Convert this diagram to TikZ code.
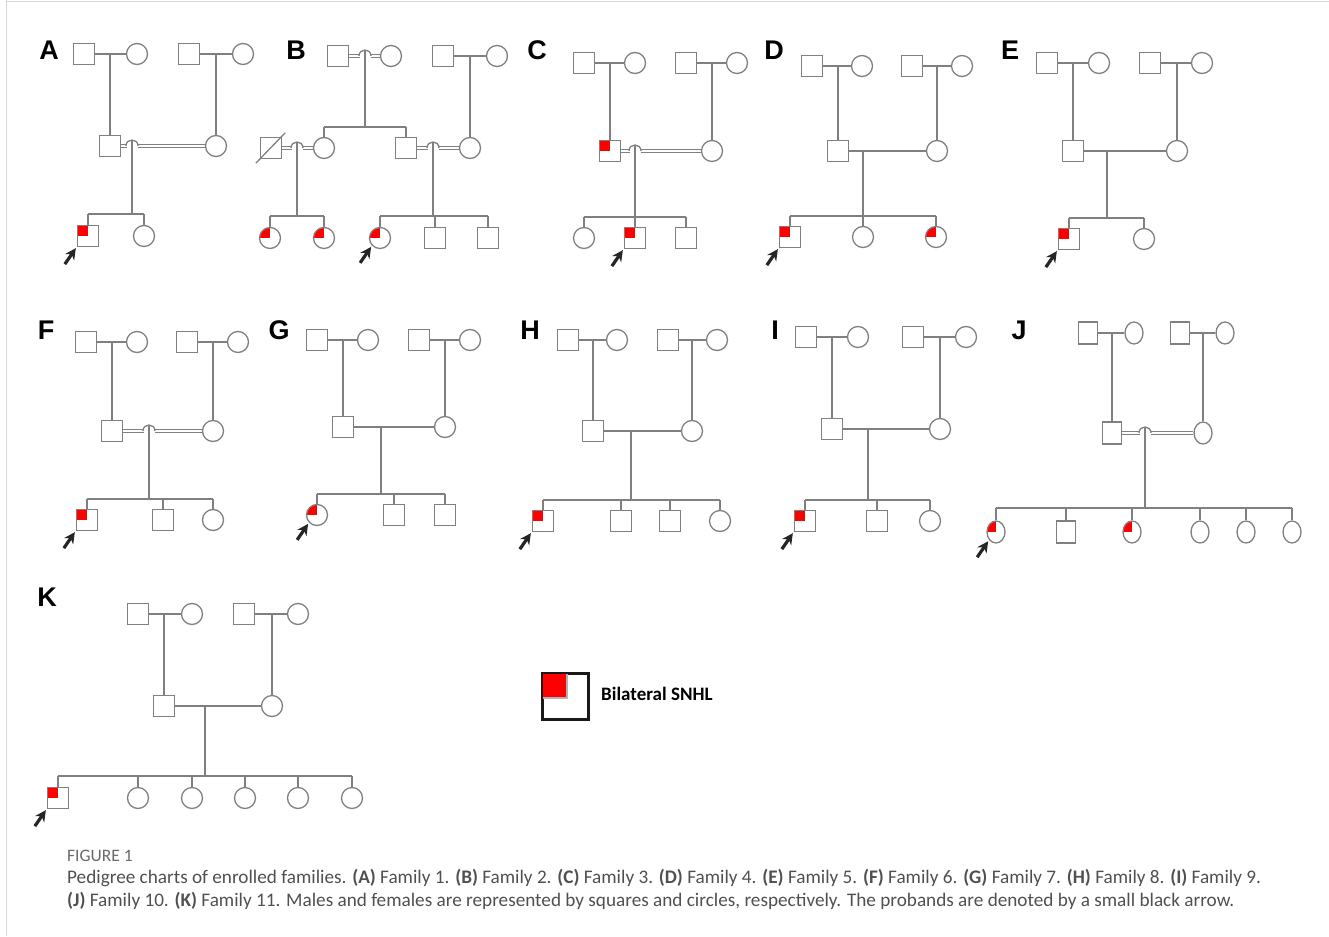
\documentclass[tikz,border=0pt]{standalone}
\usepackage{fontspec}
\newfontfamily\arialf{Liberation Sans}
\newfontfamily\calf{Carlito}
\usetikzlibrary{shapes.geometric,arrows.meta,calc}
\definecolor{pg}{RGB}{128,128,128}
\definecolor{capgray}{RGB}{80,80,80}
\definecolor{figgray}{RGB}{105,105,105}
\definecolor{framegray}{RGB}{215,215,215}
\tikzset{
 ln/.style={draw=pg, line width=1.3pt},
 dl/.style={draw=pg, line width=1.1pt},
 M/.style={rectangle, draw=pg, line width=1.3pt, minimum size=21pt, inner sep=0pt},
 Mj/.style={rectangle, draw=pg, line width=1.3pt, minimum width=19pt, minimum height=22pt, inner sep=0pt},
 F/.style={circle, draw=pg, line width=1.3pt, minimum size=21pt, inner sep=0pt},
 Fe/.style={ellipse, draw=pg, line width=1.3pt, minimum width=18pt, minimum height=22pt, inner sep=0pt},
 aff/.style={path picture={\fill[red] (path picture bounding box.north west) rectangle (path picture bounding box.center);}},
 proband/.style={draw=black!85, line width=3.2pt, -{Stealth[length=11pt,width=11pt]}},
 lbl/.style={font=\arialf\bfseries\fontsize{27}{29}\selectfont, inner sep=0pt},
}
\newcommand\marry[2]{\draw[ln] (#1.east) -- (#2.west);}
\newcommand\kid[2]{\draw[ln] (#1.north) -- (#1 |- #2);}
\newcommand\probarrow[1]{\draw[proband] ($(#1.south west)+(-12,17)$) -- ($(#1.south west)+(-1,1)$);}
\newcommand\consang[3]{%
 \draw[dl] ($(#1.east)+(0,-1.3)$) -- ($(#2)+(-5.5,-1.3)$);
 \draw[dl] ($(#1.east)+(0,1.3)$) -- ($(#2)+(-5.5,1.3)$);
 \draw[ln] ($(#2)+(-6,0)$) .. controls ($(#2)+(-6,-8)$) and ($(#2)+(6,-8)$) .. ($(#2)+(6,0)$);
 \draw[dl] ($(#2)+(5.5,-1.3)$) -- ($(#3.west)+(0,-1.3)$);
 \draw[dl] ($(#2)+(5.5,1.3)$) -- ($(#3.west)+(0,1.3)$);}
\begin{document}
\begin{tikzpicture}[x=1pt,y=-1pt]
\useasboundingbox (0,0) rectangle (1329,936);
\draw[framegray, line width=1pt] (6,0) -- (6,936);
\draw[framegray, line width=1pt] (6,1.5) -- (1329,1.5);

% ---------- A ----------
\node[lbl] (lA) at (49,50) {A};
\node[M] (A1) at (84,54) {};
\node[F] (A2) at (137,54) {};
\node[M] (A3) at (189,54) {};
\node[F] (A4) at (243,54) {};
\node[M] (A5) at (110,146) {};
\node[F] (A6) at (216,146) {};
\node[M,aff] (A7) at (88,236) {};
\node[F] (A8) at (144,236) {};
\coordinate (Ah) at (132,146);
\coordinate (As) at (132,214);
\marry{A1}{A2} \marry{A3}{A4}
\kid{A5}{A1} \kid{A6}{A3}
\consang{A5}{Ah}{A6}
\draw[ln] ($(Ah)+(0,-6)$) -- (As);
\draw[ln] (A7 |- As) -- (A8 |- As);
\kid{A7}{As} \kid{A8}{As}
\probarrow{A7}

% ---------- B ----------
\node[lbl] (lB) at (296,50) {B};
\node[M] (B1) at (338,56) {};
\node[F] (B2) at (391,56) {};
\node[M] (B3) at (443,56) {};
\node[F] (B4) at (497,56) {};
\node[M] (B5) at (271,148) {};
\node[F] (B6) at (324,148) {};
\node[M] (B7) at (406,148) {};
\node[F] (B8) at (470,148) {};
\node[F,aff] (B9) at (270,238) {};
\node[F,aff] (B10) at (324,238) {};
\node[F,aff] (B11) at (380,238) {};
\node[M] (B12) at (435,238) {};
\node[M] (B13) at (488,238) {};
\coordinate (Bh1) at (365,56);
\coordinate (Bs1) at (365,127);
\coordinate (Bh2) at (297,148);
\coordinate (Bs2) at (297,216);
\coordinate (Bh3) at (433,148);
\coordinate (Bs3) at (433,216);
\consang{B1}{Bh1}{B2}
\draw[ln] ($(Bh1)+(0,-6)$) -- (Bs1);
\draw[ln] (B6 |- Bs1) -- (B7 |- Bs1);
\kid{B6}{Bs1} \kid{B7}{Bs1}
\marry{B3}{B4} \kid{B8}{B3}
\consang{B5}{Bh2}{B6}
\draw[ln] ($(Bh2)+(0,-6)$) -- (Bs2);
\draw[ln] (B9 |- Bs2) -- (B10 |- Bs2);
\kid{B9}{Bs2} \kid{B10}{Bs2}
\consang{B7}{Bh3}{B8}
\draw[ln] ($(Bh3)+(0,-6)$) -- (Bs3);
\draw[ln] (B11 |- Bs3) -- (B13 |- Bs3);
\kid{B11}{Bs3} \kid{B12}{Bs3} \kid{B13}{Bs3}
\draw[ln] ($(B5.south west)+(-4,4)$) -- ($(B5.north east)+(3,-4)$);
\probarrow{B11}

% ---------- C ----------
\node[lbl] (lC) at (537,50) {C};
\node[M] (C1) at (584,63) {};
\node[F] (C2) at (635,63) {};
\node[M] (C3) at (686,63) {};
\node[F] (C4) at (737,63) {};
\node[M,aff] (C5) at (610,151) {};
\node[F] (C6) at (712,151) {};
\node[F] (C7) at (584,238) {};
\node[M,aff] (C8) at (635,238) {};
\node[M] (C9) at (686,238) {};
\coordinate (Ch) at (635,151);
\coordinate (Cs) at (635,217);
\marry{C1}{C2} \marry{C3}{C4}
\kid{C5}{C1} \kid{C6}{C3}
\consang{C5}{Ch}{C6}
\draw[ln] ($(Ch)+(0,-6)$) -- (Cs);
\draw[ln] (C7 |- Cs) -- (C9 |- Cs);
\kid{C7}{Cs} \kid{C8}{Cs} \kid{C9}{Cs}
\probarrow{C8}

% ---------- D ----------
\node[lbl] (lD) at (774,50) {D};
\node[M] (D1) at (812,66) {};
\node[F] (D2) at (862,66) {};
\node[M] (D3) at (912,66) {};
\node[F] (D4) at (962,66) {};
\node[M] (D5) at (838,151) {};
\node[F] (D6) at (937,151) {};
\node[M,aff] (D7) at (790,237) {};
\node[F] (D8) at (863,237) {};
\node[F,aff] (D9) at (936,237) {};
\coordinate (Dd) at (863,216);
\marry{D1}{D2} \marry{D3}{D4}
\kid{D5}{D1} \kid{D6}{D3}
\marry{D5}{D6}
\draw[ln] (Dd |- D5) -- (Dd);
\draw[ln] (D7 |- Dd) -- (D9 |- Dd);
\kid{D7}{Dd} \kid{D8}{Dd} \kid{D9}{Dd}
\probarrow{D7}

% ---------- E ----------
\node[lbl] (lE) at (1010,50) {E};
\node[M] (E1) at (1047,63) {};
\node[F] (E2) at (1099,63) {};
\node[M] (E3) at (1150,63) {};
\node[F] (E4) at (1202,63) {};
\node[M] (E5) at (1073,151) {};
\node[F] (E6) at (1177,151) {};
\node[M,aff] (E7) at (1069,239) {};
\node[F] (E8) at (1144,239) {};
\coordinate (Ed) at (1107,218);
\marry{E1}{E2} \marry{E3}{E4}
\kid{E5}{E1} \kid{E6}{E3}
\marry{E5}{E6}
\draw[ln] (Ed |- E5) -- (Ed);
\draw[ln] (E7 |- Ed) -- (E8 |- Ed);
\kid{E7}{Ed} \kid{E8}{Ed}
\probarrow{E7}

% ---------- F ----------
\node[lbl] (lF) at (46,330) {F};
\node[M] (F1) at (86,342) {};
\node[F] (F2) at (137,342) {};
\node[M] (F3) at (187,342) {};
\node[F] (F4) at (238,342) {};
\node[M] (F5) at (112,431) {};
\node[F] (F6) at (213,431) {};
\node[M,aff] (F7) at (87,520) {};
\node[M] (F8) at (163,520) {};
\node[F] (F9) at (213,520) {};
\coordinate (Fh) at (149,431);
\coordinate (Fs) at (149,499);
\marry{F1}{F2} \marry{F3}{F4}
\kid{F5}{F1} \kid{F6}{F3}
\consang{F5}{Fh}{F6}
\draw[ln] ($(Fh)+(0,-6)$) -- (Fs);
\draw[ln] (F7 |- Fs) -- (F9 |- Fs);
\kid{F7}{Fs} \kid{F8}{Fs} \kid{F9}{Fs}
\probarrow{F7}

% ---------- G ----------
\node[lbl] (lG) at (279,330) {G};
\node[M] (G1) at (317,340) {};
\node[F] (G2) at (368,340) {};
\node[M] (G3) at (419,340) {};
\node[F] (G4) at (470,340) {};
\node[M] (G5) at (343,427) {};
\node[F] (G6) at (445,427) {};
\node[F,aff] (G7) at (317,515) {};
\node[M] (G8) at (394,515) {};
\node[M] (G9) at (445,515) {};
\coordinate (Gd) at (381,494);
\marry{G1}{G2} \marry{G3}{G4}
\kid{G5}{G1} \kid{G6}{G3}
\marry{G5}{G6}
\draw[ln] (Gd |- G5) -- (Gd);
\draw[ln] (G7 |- Gd) -- (G9 |- Gd);
\kid{G7}{Gd} \kid{G8}{Gd} \kid{G9}{Gd}
\probarrow{G7}

% ---------- H ----------
\node[lbl] (lH) at (530,330) {H};
\node[M] (H1) at (568,340) {};
\node[F] (H2) at (617,340) {};
\node[M] (H3) at (668,340) {};
\node[F] (H4) at (717,340) {};
\node[M] (H5) at (593,431) {};
\node[F] (H6) at (692,431) {};
\node[M,aff] (H7) at (543,521) {};
\node[M] (H8) at (621,521) {};
\node[M] (H9) at (670,521) {};
\node[F] (H10) at (720,521) {};
\coordinate (Hd) at (631,500);
\marry{H1}{H2} \marry{H3}{H4}
\kid{H5}{H1} \kid{H6}{H3}
\marry{H5}{H6}
\draw[ln] (Hd |- H5) -- (Hd);
\draw[ln] (H7 |- Hd) -- (H10 |- Hd);
\kid{H7}{Hd} \kid{H8}{Hd} \kid{H9}{Hd} \kid{H10}{Hd}
\probarrow{H7}

% ---------- I ----------
\node[lbl] (lI) at (775,330) {I};
\node[M] (I1) at (806,337) {};
\node[F] (I2) at (858,337) {};
\node[M] (I3) at (913,337) {};
\node[F] (I4) at (966,337) {};
\node[M] (I5) at (832,429) {};
\node[F] (I6) at (940,429) {};
\node[M,aff] (I7) at (805,521) {};
\node[M] (I8) at (877,521) {};
\node[F] (I9) at (930,521) {};
\coordinate (Id) at (868,500);
\marry{I1}{I2} \marry{I3}{I4}
\kid{I5}{I1} \kid{I6}{I3}
\marry{I5}{I6}
\draw[ln] (Id |- I5) -- (Id);
\draw[ln] (I7 |- Id) -- (I9 |- Id);
\kid{I7}{Id} \kid{I8}{Id} \kid{I9}{Id}
\probarrow{I7}

% ---------- J ----------
\node[lbl] (lJ) at (1019,330) {J};
\node[Mj] (J1) at (1088,333) {};
\node[Fe] (J2) at (1134,333) {};
\node[Mj] (J3) at (1180,333) {};
\node[Fe] (J4) at (1225,333) {};
\node[Mj] (J5) at (1112,433) {};
\node[Fe] (J6) at (1203,433) {};
\node[Fe,aff] (J7) at (996,532) {};
\node[Mj] (J8) at (1066,532) {};
\node[Fe,aff] (J9) at (1132,532) {};
\node[Fe] (J10) at (1200,532) {};
\node[Fe] (J11) at (1246,532) {};
\node[Fe] (J12) at (1292,532) {};
\coordinate (Jh) at (1145,433);
\coordinate (Js) at (1145,508);
\marry{J1}{J2} \marry{J3}{J4}
\kid{J5}{J1} \kid{J6}{J3}
\consang{J5}{Jh}{J6}
\draw[ln] ($(Jh)+(0,-6)$) -- (Js);
\draw[ln] (J7 |- Js) -- (J12 |- Js);
\kid{J7}{Js} \kid{J8}{Js} \kid{J9}{Js} \kid{J10}{Js} \kid{J11}{Js} \kid{J12}{Js}
\probarrow{J7}

% ---------- K ----------
\node[lbl] (lK) at (47,597) {K};
\node[M] (K1) at (138,614) {};
\node[F] (K2) at (192,614) {};
\node[M] (K3) at (244,614) {};
\node[F] (K4) at (298,614) {};
\node[M] (K5) at (164,706) {};
\node[F] (K6) at (272,706) {};
\node[M,aff] (K7) at (58,798) {};
\node[F] (K8) at (138,798) {};
\node[F] (K9) at (192,798) {};
\node[F] (K10) at (245,798) {};
\node[F] (K11) at (298,798) {};
\node[F] (K12) at (352,798) {};
\coordinate (Kd) at (205,776);
\marry{K1}{K2} \marry{K3}{K4}
\kid{K5}{K1} \kid{K6}{K3}
\marry{K5}{K6}
\draw[ln] (Kd |- K5) -- (Kd);
\draw[ln] (K7 |- Kd) -- (K12 |- Kd);
\kid{K7}{Kd} \kid{K8}{Kd} \kid{K9}{Kd} \kid{K10}{Kd} \kid{K11}{Kd} \kid{K12}{Kd}
\probarrow{K7}

% ---------- legend ----------
\node[draw=black!90, line width=3pt, minimum size=46pt, inner sep=0pt] (LG) at (565.5,696.5) {};
\fill[gray!60] ($(LG.north west)+(1.5,1.5)$) rectangle ($(LG.center)+(2,2)$);
\fill[red] ($(LG.north west)+(1.5,1.5)$) rectangle (LG.center);
\node[anchor=west, inner sep=0pt, font=\calf\bfseries\fontsize{19}{22}\selectfont] (LT) at (601,694) {Bilateral SNHL};

% ---------- caption ----------
\node[anchor=west, inner sep=0pt, text=figgray, font=\calf\fontsize{17.5}{20}\selectfont] (cap0) at (67,856) {FIGURE 1};
\node[anchor=west, inner sep=0pt, text=capgray, font=\calf\fontsize{19.2}{22}\selectfont] (cap1) at (67,878) {Pedigree charts of enrolled families. \textbf{(A)} Family 1. \textbf{(B)} Family 2. \textbf{(C)} Family 3. \textbf{(D)} Family 4. \textbf{(E)} Family 5. \textbf{(F)} Family 6. \textbf{(G)} Family 7. \textbf{(H)} Family 8. \textbf{(I)} Family 9.};
\node[anchor=west, inner sep=0pt, text=capgray, font=\calf\fontsize{19.2}{22}\selectfont] (cap2) at (67,901) {\textbf{(J)} Family 10. \textbf{(K)} Family 11. Males and females are represented by squares and circles, respectively. The probands are denoted by a small black arrow.};
\end{tikzpicture}
\end{document}
